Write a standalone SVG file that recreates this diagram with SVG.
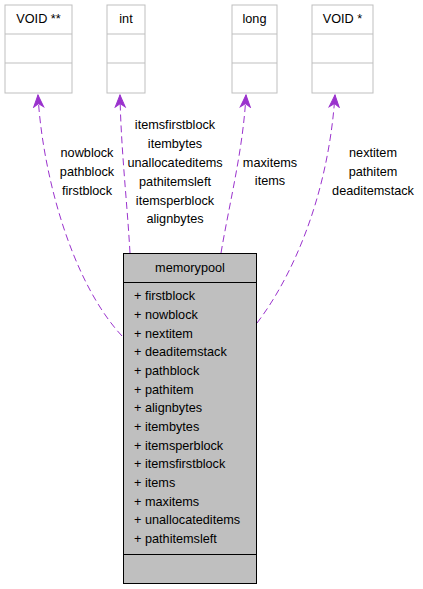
<svg xmlns="http://www.w3.org/2000/svg" width="423" height="589" viewBox="0 0 423 589">
<style>
text{font-family:"Liberation Sans",Arial,sans-serif;font-size:12.7px;fill:#000}
.c{text-anchor:middle}
.ext{fill:#fff;stroke:#bfbfbf;stroke-width:1}
.main{fill:#bfbfbf;stroke:#000;stroke-width:1}
.sep{stroke:#000;stroke-width:1}
.sepg{stroke:#bfbfbf;stroke-width:1}
.edge{fill:none;stroke:#9a32cd;stroke-width:1;stroke-dasharray:7,4;marker-end:url(#arr)}
</style>
<defs>
<marker id="arr" markerUnits="userSpaceOnUse" markerWidth="16" markerHeight="14" viewBox="-13 -7 16 14" refX="0" refY="0" orient="auto">
<polygon points="0,0 -12,-5 -8.5,0 -12,5" fill="#9a32cd" stroke="#9a32cd" stroke-width="1"/>
</marker>
</defs>
<rect width="423" height="589" fill="#fff"/>
<g id="connectors">
<path class="edge" d="M122,336 C70,280 42,170 38,95"/>
<path class="edge" d="M130,253 C127,200 121,150 120,95"/>
<path class="edge" d="M221,253 C230,200 243,150 246,95"/>
<path class="edge" d="M257,323 C290,280 328,200 335,95"/>
</g>
<g id="labels">
<text class="c" x="87" y="157">nowblock</text>
<text class="c" x="87" y="176">pathblock</text>
<text class="c" x="87" y="195">firstblock</text>
<text class="c" x="175" y="129">itemsfirstblock</text>
<text class="c" x="175" y="148">itembytes</text>
<text class="c" x="175" y="166.5">unallocateditems</text>
<text class="c" x="175" y="185.5">pathitemsleft</text>
<text class="c" x="175" y="204.5">itemsperblock</text>
<text class="c" x="175" y="223">alignbytes</text>
<text class="c" x="270" y="167">maxitems</text>
<text class="c" x="270" y="185">items</text>
<text class="c" x="373" y="157">nextitem</text>
<text class="c" x="373" y="176">pathitem</text>
<text class="c" x="373" y="195">deaditemstack</text>
</g>
<g id="void2">
<rect class="ext" x="5" y="5" width="67" height="88"/>
<line class="sepg" x1="5" y1="34" x2="72" y2="34"/>
<line class="sepg" x1="5" y1="63" x2="72" y2="63"/>
<text class="c" x="38.5" y="23">VOID **</text>
</g>
<g id="int">
<rect class="ext" x="107" y="5" width="38" height="88"/>
<line class="sepg" x1="107" y1="34" x2="145" y2="34"/>
<line class="sepg" x1="107" y1="63" x2="145" y2="63"/>
<text class="c" x="126" y="23">int</text>
</g>
<g id="long">
<rect class="ext" x="232" y="5" width="45" height="88"/>
<line class="sepg" x1="232" y1="34" x2="277" y2="34"/>
<line class="sepg" x1="232" y1="63" x2="277" y2="63"/>
<text class="c" x="254.5" y="23">long</text>
</g>
<g id="void1">
<rect class="ext" x="312" y="5" width="61" height="88"/>
<line class="sepg" x1="312" y1="34" x2="373" y2="34"/>
<line class="sepg" x1="312" y1="63" x2="373" y2="63"/>
<text class="c" x="342.5" y="23">VOID *</text>
</g>
<g id="memorypool">
<rect class="main" x="123.5" y="253.5" width="133" height="330"/>
<line class="sep" x1="123.5" y1="282.5" x2="256.5" y2="282.5" stroke-width="2"/>
<line class="sep" x1="123.5" y1="554.5" x2="256.5" y2="554.5" stroke-width="2"/>
<text class="c" x="190" y="272">memorypool</text>
<text x="134" y="300.2">+ firstblock</text>
<text x="134" y="318.9">+ nowblock</text>
<text x="134" y="337.5">+ nextitem</text>
<text x="134" y="356.2">+ deaditemstack</text>
<text x="134" y="374.8">+ pathblock</text>
<text x="134" y="393.5">+ pathitem</text>
<text x="134" y="412.2">+ alignbytes</text>
<text x="134" y="430.8">+ itembytes</text>
<text x="134" y="449.5">+ itemsperblock</text>
<text x="134" y="468.1">+ itemsfirstblock</text>
<text x="134" y="486.8">+ items</text>
<text x="134" y="505.5">+ maxitems</text>
<text x="134" y="524.1">+ unallocateditems</text>
<text x="134" y="542.8">+ pathitemsleft</text>
</g>
</svg>
